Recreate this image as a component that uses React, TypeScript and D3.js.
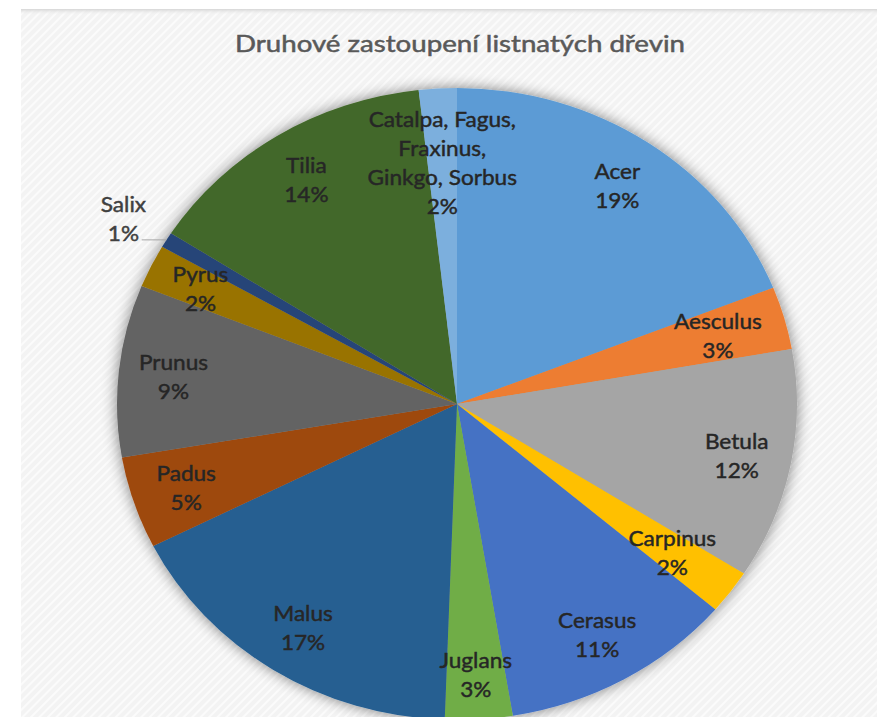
import React from "react";
import * as d3 from "d3";

// ---- data ----
const chartTitle = "Druhové zastoupení listnatých dřevin";
const categories = [
  "Acer",
  "Aesculus",
  "Betula",
  "Carpinus",
  "Cerasus",
  "Juglans",
  "Malus",
  "Padus",
  "Prunus",
  "Pyrus",
  "Salix",
  "Tilia",
  "Catalpa, Fagus, Fraxinus, Ginkgo, Sorbus",
];
const shares = [19.0, 3.2, 11.8, 2.25, 11.1, 3.2, 17.0, 4.7, 8.8, 2.2, 0.8, 14.1, 1.8];
const sliceColors = [
  "#5B9BD5",
  "#ED7D31",
  "#A5A5A5",
  "#FFC000",
  "#4472C4",
  "#70AD47",
  "#255E91",
  "#9E480E",
  "#636363",
  "#997300",
  "#264478",
  "#43682B",
  "#7CAFDD",
];

// ---- style ----
const W = 877;
const H = 717;
const CX = 457;
const CY = 404;
const R = 316;
const STRETCH = 1.076;
const LABEL_R = 265;
const labelRadiusOverride: Record<string, number> = {
  Aesculus: 252,
  Carpinus: 249,
  Juglans: 271,
  "Catalpa, Fagus, Fraxinus, Ginkgo, Sorbus": 242,
};
const outsideLabels = new Set(["Salix"]);
const FONT = "Lato, 'Open Sans', sans-serif";
const LINE_H = 29;

function wrap(text: string, maxChars: number): string[] {
  const words = text.split(" ");
  const lines: string[] = [];
  let cur = "";
  for (const w of words) {
    const next = cur ? cur + " " + w : w;
    if (next.length > maxChars && cur) {
      lines.push(cur);
      cur = w;
    } else cur = next;
  }
  if (cur) lines.push(cur);
  return lines;
}

type Datum = { name: string; value: number; color: string };

export default function App() {
  const data: Datum[] = categories.map((c, i) => ({ name: c, value: shares[i], color: sliceColors[i] }));
  const total = d3.sum(shares);
  const pie = d3
    .pie<Datum>()
    .sort(null)
    .value((d) => d.value)
    .startAngle(0)
    .endAngle(2 * Math.PI);
  const arcs = pie(data);
  const arcGen = d3.arc<d3.PieArcDatum<Datum>>().innerRadius(0).outerRadius(R);

  const textProps = (fill: string) => ({
    textAnchor: "middle" as const,
    dominantBaseline: "central" as const,
    fontFamily: FONT,
    fontSize: 21,
    fill,
    stroke: fill,
    strokeWidth: 0.45,
  });

  return (
    <svg width={W} height={H} style={{ position: "absolute", left: 0, top: 0 }}>
      <defs>
        <pattern id="hatch" width="6" height="6" patternUnits="userSpaceOnUse" patternTransform="rotate(45)">
          <rect width="6" height="6" fill="#f3f3f3" />
          <rect width="2" height="6" fill="#fbfbfb" />
        </pattern>
        <linearGradient id="topShade" x1="0" y1="0" x2="0" y2="1">
          <stop offset="0" stopColor="#d6d6d6" />
          <stop offset="1" stopColor="#f4f4f4" stopOpacity="0" />
        </linearGradient>
        <filter id="shadow" x="-20%" y="-20%" width="140%" height="140%">
          <feGaussianBlur in="SourceAlpha" stdDeviation="7" />
          <feComponentTransfer>
            <feFuncA type="linear" slope="0.5" />
          </feComponentTransfer>
          <feMerge>
            <feMergeNode />
            <feMergeNode in="SourceGraphic" />
          </feMerge>
        </filter>
      </defs>
      <rect x={0} y={0} width={W} height={H} fill="#ffffff" />
      <rect x={21} y={9} width={W - 21} height={H - 9} fill="url(#hatch)" />
      <rect x={21} y={9} width={W - 21} height={6} fill="url(#topShade)" />

      <text
        x={460}
        y={52}
        textAnchor="middle"
        fontFamily={FONT}
        fontSize={23}
        fill="#595959"
        stroke="#595959"
        strokeWidth={0.5}
        textLength={450}
        lengthAdjust="spacingAndGlyphs"
      >
        {chartTitle}
      </text>

      <g transform={`translate(${CX},${CY}) scale(${STRETCH},1)`}>
        <g filter="url(#shadow)">
          {arcs.map((a, i) => (
            <path key={i} d={arcGen(a) || ""} fill={a.data.color} />
          ))}
        </g>
        {arcs.map((a, i) => {
          const mid = (a.startAngle + a.endAngle) / 2;
          const pct = Math.round((a.data.value / total) * 100) + "%";
          const lines = [...wrap(a.data.name, 15), pct];
          if (outsideLabels.has(a.data.name)) {
            const ex = Math.sin(mid) * R;
            const ey = -Math.cos(mid) * R;
            const lx = ex - 22;
            const tx = lx - 18;
            const ty = ey - 22;
            return (
              <g key={"l" + i}>
                <line x1={ex} y1={ey} x2={lx - 1} y2={ey} stroke="#a6a6a6" strokeWidth={1} />
                {lines.map((ln, j) => (
                  <text key={j} x={tx} y={ty + (j - (lines.length - 1) / 2) * LINE_H} {...textProps("#404040")}>
                    {ln}
                  </text>
                ))}
              </g>
            );
          }
          const lr = labelRadiusOverride[a.data.name] ?? LABEL_R;
          const x = Math.sin(mid) * lr;
          const y = -Math.cos(mid) * lr;
          return (
            <g key={"l" + i}>
              {lines.map((ln, j) => (
                <text key={j} x={x} y={y + (j - (lines.length - 1) / 2) * LINE_H} {...textProps("#262626")}>
                  {ln}
                </text>
              ))}
            </g>
          );
        })}
      </g>
    </svg>
  );
}
